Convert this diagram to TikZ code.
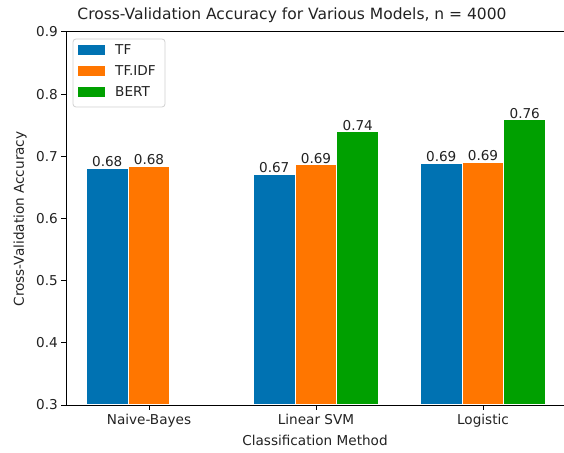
\documentclass[tikz,border=0pt]{standalone}
\usepackage{fontspec}
\setmainfont{DejaVu Sans}
\usepackage{xcolor}
\usetikzlibrary{positioning}

\definecolor{tfblue}{HTML}{0072B2}
\definecolor{idforange}{HTML}{FF7600}
\definecolor{bertgreen}{HTML}{00A000}
\definecolor{inkgray}{HTML}{222222}

\begin{document}
\begin{tikzpicture}[x=1pt, y=1pt,
			bar/.style={draw=white, line width=1.2pt},
			spine/.style={line width=1pt, black},
			ticklabel/.style={inkgray, font=\fontsize{13.6}{15}\selectfont},
			vallabel/.style={anchor=south, inner sep=1pt, inkgray, font=\fontsize{13.6}{15}\selectfont},
			legentry/.style={anchor=west, inner sep=0pt, inkgray, font=\fontsize{13.6}{15}\selectfont}]
			
			\useasboundingbox (0,0) rectangle (564,452);
			
			% bars: group / slot / value / colour / label / name
			\foreach \g/\k/\v/\c/\lbl/\n in {
					0/0/0.681/tfblue/0.68/nbtf,
					0/1/0.684/idforange/0.68/nbidf,
					1/0/0.671/tfblue/0.67/svmtf,
					1/1/0.687/idforange/0.69/svmidf,
					1/2/0.740/bertgreen/0.74/svmbert,
					2/0/0.689/tfblue/0.69/logtf,
					2/1/0.691/idforange/0.69/logidf,
					2/2/0.759/bertgreen/0.76/logbert}{
				\pgfmathsetmacro\xc{149+167*\g+41.75*(\k-1)}
				\pgfmathsetmacro\yt{47+(\v-0.3)*621.7}
				\filldraw[fill=\c, bar] (\xc-20.875,47) rectangle (\xc+20.875,\yt);
				\node[vallabel] (\n) at (\xc,\yt) {\lbl};
			}
			
			% axes
			\draw[spine] (66,420) -- (66,47) -- (564,47);
			\draw[spine] (66,420) -- (564,420);
			
			% y ticks
			\foreach \t in {3,...,9}{
				\pgfmathsetmacro\yy{47+(\t-3)*62.17}
				\draw[spine] (61,\yy) -- (66,\yy);
				\node[ticklabel, anchor=east, inner sep=1pt] (ytick\t) at (59,\yy) {0.\t};
			}
			
			% x ticks
			\foreach \g/\name/\n in {0/Naive-Bayes/nb, 1/Linear SVM/svm, 2/Logistic/log}{
				\pgfmathsetmacro\xx{149+167*\g}
				\draw[spine] (\xx,47) -- (\xx,42);
				\node[ticklabel, anchor=north, inner sep=0pt] (xtick-\n) at (\xx,38) {\name};
			}
			
			% titles
			\node[ticklabel] (xlabel) at (315,12) {Classification Method};
			\node[ticklabel, rotate=90] (ylabel) at (20,233) {Cross-Validation Accuracy};
			\node[inkgray, font=\fontsize{15.5}{18}\selectfont] (title) at (292,437)
				{Cross-Validation Accuracy for Various Models, n = 4000};
			
			% legend
			\node[draw=black!18, fill=white, rounded corners=3pt, line width=0.8pt,
				minimum width=92, minimum height=68, inner sep=0pt] (legend) at (119,379) {};
			\foreach \yy/\c/\name/\n in {402/tfblue/TF/tf, 381/idforange/TF.IDF/idf, 360/bertgreen/BERT/bert}{
				\fill[\c] (78,\yy-5) rectangle (105,\yy+5);
				\node[legentry] (leg-\n) at (115,\yy) {\name};
			}
		\end{tikzpicture}
\end{document}
